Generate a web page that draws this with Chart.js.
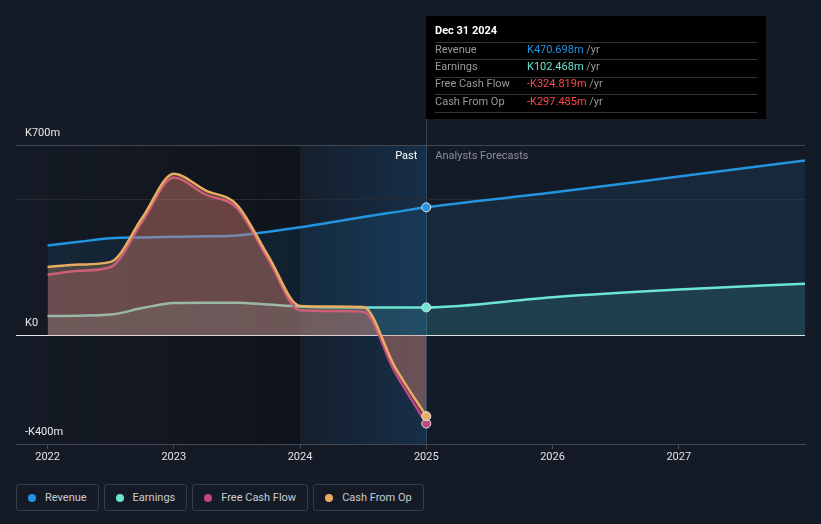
<!DOCTYPE html>
<html lang="en">
<head>
<meta charset="UTF-8">
<title>Revenue, Earnings and Cash Flow</title>
<script src="https://cdn.jsdelivr.net/npm/chart.js"></script>
<style>
  html, body { margin: 0; padding: 0; background: #151b26; }
  body { width: 821px; height: 524px; overflow: hidden; position: relative; font-family: Roboto, Arial, sans-serif; }
  #wrap { position: absolute; left: 0; top: 0; width: 821px; height: 470px; }
  #legend { position: absolute; left: 16px; top: 484px; display: flex; gap: 5px; }
  .item { box-sizing: border-box; height: 27px; border: 1px solid #363c47; border-radius: 3px; padding: 0 11px 0 11px;
          display: flex; align-items: center; color: #c9ccd1; font-size: 11px; }
  .dot { width: 8px; height: 8px; border-radius: 50%; margin-right: 9px; }
</style>
</head>
<body>
<div id="wrap"><canvas id="chart" width="821" height="470"></canvas></div>
<div id="legend"></div>

<script>
// quarterly history (decimal years) and analyst forecasts, values in K millions
var pastYears = [2022.0, 2022.25, 2022.5, 2022.75, 2023.0, 2023.25, 2023.5, 2023.75, 2024.0, 2024.25, 2024.5, 2024.75, 2025.0];
var revenuePast = [330, 344, 357, 360, 362, 364, 367, 381, 397, 416, 435, 453, 470.698];
var earningsPast = [71, 72, 76, 100, 119, 120, 120, 113, 106, 103, 102, 102, 102.468];
var fcfPast = [223, 237, 251, 418, 580, 518, 468, 278, 92, 89, 87, -135, -324.819];
var cfoPast = [251, 260, 270, 432, 594, 533, 480, 290, 108, 106, 104, -115, -297.485];

var forecastYears = [2025.0, 2026.0, 2027.0, 2028.0];
var revenueForecast = [470.698, 525, 584, 643];
var earningsForecast = [102.468, 140, 168, 190];

var xTicks = [2022, 2023, 2024, 2025, 2026, 2027];
var yTicks = [-400, 0, 500, 700];
var yTickLabels = ['-K400m', 'K0', '', 'K700m'];

var seriesNames = ['Revenue', 'Earnings', 'Free Cash Flow', 'Cash From Op'];
var seriesColors = ['#2394df', '#6ce5d3', '#c4457f', '#e8ad62'];

var pastEnd = 2025.0;

function toPoints(xs, ys) {
    return xs.map(function (x, i) { return { x: x, y: ys[i] }; });
}

function joinSeries(xa, ya, xb, yb) {
    return toPoints(xa, ya).concat(toPoints(xb.slice(1), yb.slice(1)));
}

function fmt(v) {
    return (v < 0 ? '-' : '') + 'K' + Math.abs(v).toFixed(3) + 'm';
}

function lineSet(i, data, fillColor, order) {
    return {
        label: seriesNames[i],
        data: data,
        borderColor: seriesColors[i],
        backgroundColor: fillColor,
        borderWidth: 2.5,
        fill: 'origin',
        cubicInterpolationMode: 'monotone',
        order: order,
        pointRadius: function (c) { return c.raw && c.raw.x === pastEnd ? 4.5 : 0; },
        pointBackgroundColor: seriesColors[i],
        pointBorderColor: '#e6e6e6',
        pointBorderWidth: 1
    };
}

var overlay = {
    id: 'overlay',
    beforeDraw: function (chart) {
        var ctx = chart.ctx, a = chart.chartArea, x = chart.scales.x;
        var x24 = x.getPixelForValue(2024), x25 = x.getPixelForValue(pastEnd);
        ctx.save();
        // darker past region
        var g = ctx.createLinearGradient(a.left, 0, x24, 0);
        g.addColorStop(0, 'rgba(8,9,11,0)');
        g.addColorStop(1, 'rgba(8,9,11,0.4)');
        ctx.fillStyle = g;
        ctx.fillRect(a.left, a.top, x24 - a.left, a.bottom - a.top);
        // last twelve months band
        g = ctx.createLinearGradient(x24, 0, x25, 0);
        g.addColorStop(0, 'rgba(33,150,243,0.03)');
        g.addColorStop(1, 'rgba(33,150,243,0.17)');
        ctx.fillStyle = g;
        ctx.fillRect(x24, a.top, x25 - x24, a.bottom - a.top);
        // marker line
        ctx.strokeStyle = 'rgba(50,85,115,0.8)';
        ctx.lineWidth = 1;
        ctx.beginPath();
        ctx.moveTo(Math.round(x25) + 0.5, 16);
        ctx.lineTo(Math.round(x25) + 0.5, a.bottom);
        ctx.stroke();
        ctx.restore();
    },
    afterDraw: function (chart) {
        var ctx = chart.ctx, x = chart.scales.x;
        var x25 = x.getPixelForValue(pastEnd);
        ctx.save();
        ctx.textBaseline = 'middle';
        ctx.font = '11px Roboto, Arial, sans-serif';
        ctx.textAlign = 'right';
        ctx.fillStyle = '#ffffff';
        ctx.fillText('Past', x25 - 9, 156);
        ctx.textAlign = 'left';
        ctx.fillStyle = '#8a8f98';
        ctx.fillText('Analysts Forecasts', x25 + 9, 156);

        // tooltip box
        var bx = Math.round(x25), by = 16, bw = 340, bh = 103;
        ctx.fillStyle = '#000000';
        ctx.fillRect(bx, by, bw, bh);
        ctx.fillStyle = '#ffffff';
        ctx.font = 'bold 11px Roboto, Arial, sans-serif';
        ctx.fillText('Dec 31 2024', bx + 9, 31);
        var vals = [revenuePast[12], earningsPast[12], fcfPast[12], cfoPast[12]];
        var valColors = ['#2394df', '#6ce5d3', '#ff4a4a', '#ff4a4a'];
        ctx.strokeStyle = '#333333';
        ctx.lineWidth = 1;
        for (var i = 0; i <= 4; i++) {
            var ly = Math.round(41.5 + i * 17.5) + 0.5;
            ctx.beginPath();
            ctx.moveTo(bx + 9, ly);
            ctx.lineTo(bx + bw - 9, ly);
            ctx.stroke();
        }
        ctx.font = '11px Roboto, Arial, sans-serif';
        for (var j = 0; j < 4; j++) {
            var ty = 50 + j * 17.3;
            ctx.fillStyle = '#9a9a9a';
            ctx.fillText(seriesNames[j], bx + 9, ty);
            var s = fmt(vals[j]);
            ctx.fillStyle = valColors[j];
            ctx.fillText(s, bx + 101, ty);
            var w = ctx.measureText(s).width;
            ctx.fillStyle = '#9a9a9a';
            ctx.fillText(' /yr', bx + 101 + w, ty);
        }
        ctx.restore();
    }
};

var datasets = [
    lineSet(0, joinSeries(pastYears, revenuePast, forecastYears, revenueForecast), 'rgba(35,148,223,0.11)', 4),
    lineSet(1, joinSeries(pastYears, earningsPast, forecastYears, earningsForecast), 'rgba(108,229,211,0.12)', 3),
    lineSet(2, toPoints(pastYears, fcfPast), 'rgba(196,69,127,0.25)', 2),
    lineSet(3, toPoints(pastYears, cfoPast), 'rgba(232,173,98,0.25)', 1)
];

new Chart(document.getElementById('chart'), {
    type: 'line',
    data: { datasets: datasets },
    plugins: [overlay],
    options: {
        responsive: false,
        animation: false,
        layout: { padding: { left: 16, right: 16, top: 145, bottom: 0 } },
        plugins: { legend: { display: false }, tooltip: { enabled: false } },
        scales: {
            x: {
                type: 'linear',
                min: 2021.75,
                max: 2028,
                afterBuildTicks: function (s) { s.ticks = xTicks.map(function (v) { return { value: v }; }); },
                afterFit: function (s) { s.height = 26; },
                ticks: {
                    color: '#e2e2e2',
                    font: { family: 'Roboto', size: 11 },
                    padding: 2,
                    maxRotation: 0,
                    callback: function (v) { return String(v); }
                },
                grid: { drawOnChartArea: false, drawTicks: true, tickLength: 5, color: '#424853' },
                border: { display: true, color: '#424853' }
            },
            y: {
                min: -400,
                max: 700,
                afterBuildTicks: function (s) { s.ticks = yTicks.map(function (v) { return { value: v }; }); },
                afterFit: function (s) { s.width = 0; },
                ticks: {
                    mirror: true,
                    padding: 9,
                    labelOffset: -12,
                    color: '#e8e8e8',
                    font: { family: 'Roboto', size: 11 },
                    callback: function (v) { return yTickLabels[yTicks.indexOf(v)]; }
                },
                grid: {
                    drawTicks: false,
                    color: function (c) {
                        var v = c.tick && c.tick.value;
                        if (v === 0) return '#e6e6e6';
                        if (v === 500) return '#252a33';
                        return '#424853';
                    }
                },
                border: { display: false }
            }
        }
    }
});

// legend
var legend = document.getElementById('legend');
seriesNames.forEach(function (name, i) {
    var item = document.createElement('div');
    item.className = 'item';
    item.innerHTML = '<span class="dot" style="background:' + seriesColors[i] + '"></span>' + name;
    legend.appendChild(item);
});
</script>
</body>
</html>
